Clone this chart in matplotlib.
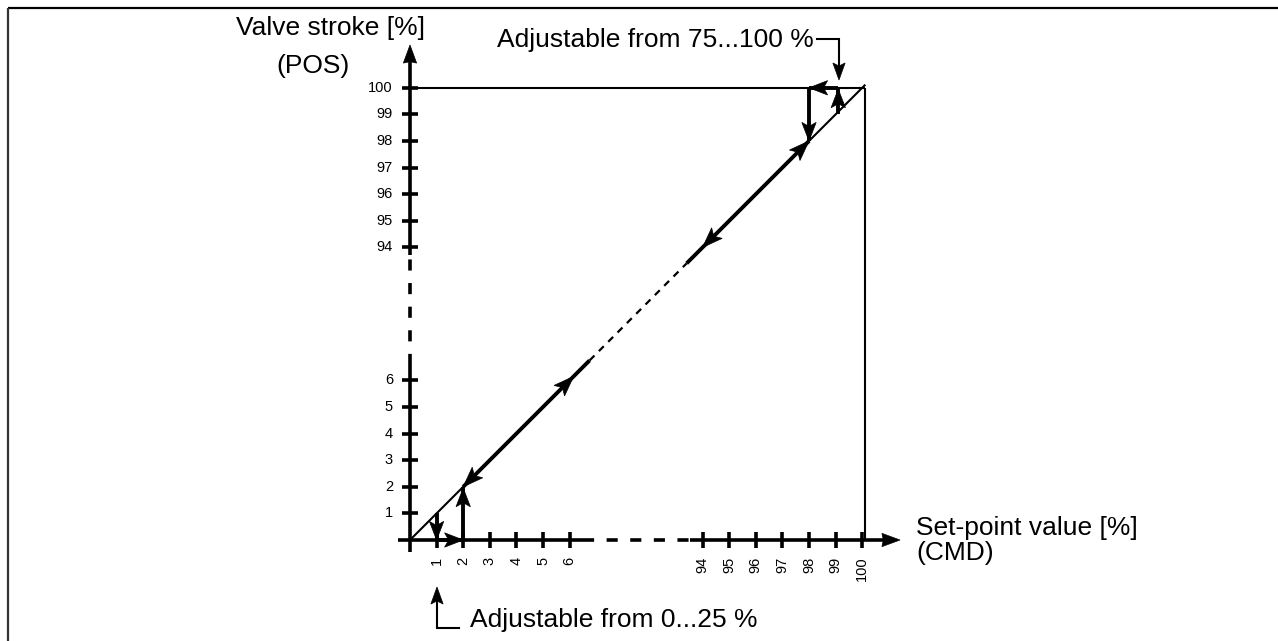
import matplotlib
matplotlib.use("Agg")
import matplotlib.pyplot as plt
from matplotlib.patches import Polygon
import numpy as np

plt.rcParams['font.family'] = ['Liberation Sans', 'DejaVu Sans']
plt.rcParams['lines.scale_dashes'] = False

# ---------------- data ----------------
x_tick_values = [1, 2, 3, 4, 5, 6, 94, 95, 96, 97, 98, 99, 100]
y_tick_values = [1, 2, 3, 4, 5, 6, 94, 95, 96, 97, 98, 99, 100]
x_tick_labels = [str(v) for v in x_tick_values]
y_tick_labels = [str(v) for v in y_tick_values]

# lower dead-band loop (CMD, POS)
low_loop_x = [1, 1, 2, 2]
low_loop_y = [1, 0, 0, 2]
# upper dead-band loop
high_loop_x = [99, 99, 98, 98]
high_loop_y = [99, 100, 100, 98]
# characteristic line (CMD = POS)
diag_thin_lo = [0, 2]
diag_lo = [2, 6.75]
diag_mid = [6.75, 10.4]   # broken part (shown dashed)
diag_hi = [10.4, 98]
diag_thin_hi = [98, 100]
diag_arrows = [(6.15, 1), (2, -1), (94, -1), (98, 1)]  # (position, direction)

x_label = ["Set-point value [%]", "(CMD)"]
y_label = ["Valve stroke [%]", "(POS)"]
note_top = "Adjustable from 75...100 %"
note_bottom = "Adjustable from 0...25 %"


def u(v):
    """map value to broken-scale position"""
    v = np.asarray(v, dtype=float)
    return np.where(v > 50, v - 83.0, v)


W, H = 1278, 641
dpi = 100
fig = plt.figure(figsize=(W / dpi, H / dpi), dpi=dpi)
ax = fig.add_axes([0, 0, 1, 1])
ax.set_axis_off()

PX = 26.6          # pixels per unit
OX, OY = 410, 540  # origin in pixels (from top)
ax.set_xlim(-OX / PX, (W - OX) / PX)
ax.set_ylim(-(H - OY) / PX, OY / PX)


def px(xp, yp):
    return (xp - OX) / PX, (OY - yp) / PX


LW_THIN = 1.5
LW_AX = 2.6
LW_THICK = 2.8
FS_BIG = 19
FS_TICK = 10.5


def head(tip, direction, length=0.7, half=0.27, notch=0.22):
    d = np.asarray(direction, float)
    d = d / np.hypot(*d)
    n = np.array([-d[1], d[0]])
    t = np.asarray(tip, float)
    back = t - d * length
    pts = [t, back + n * half, t - d * length * (1 - notch), back - n * half]
    ax.add_patch(Polygon(pts, closed=True, facecolor='black', edgecolor='black',
                         linewidth=0.5, zorder=6, joinstyle='miter'))


# ---- border ----
bx0, by0 = px(7.5, 8)
bx1, _ = px(W + 5, 8)
_, by1 = px(7.5, H + 5)
ax.plot([bx0, bx1], [by0, by0], color='black', lw=1.6, solid_capstyle='butt')
ax.plot([bx0, bx0], [by0, by1], color='#333333', lw=1.6, solid_capstyle='butt')

# ---- axes (broken) ----
xa0 = -0.45
xa1 = px(900, 0)[0]
ya1 = px(0, 45)[1]
ax.plot([xa0, 6.5], [0, 0], color='black', lw=LW_AX, solid_capstyle='butt')
ax.plot([6.5, 10.53], [0, 0], color='black', lw=LW_AX, ls=(0, (8, 9)))
ax.plot([10.53, xa1 - 0.5], [0, 0], color='black', lw=LW_AX, solid_capstyle='butt')
head((xa1, 0), (1, 0), length=0.68, half=0.25, notch=0.08)

ax.plot([0, 0], [xa0, 6.58], color='black', lw=LW_AX, solid_capstyle='butt')
ax.plot([0, 0], [6.58, 10.71], color='black', lw=LW_AX, ls=(0, (8, 9)))
ax.plot([0, 0], [10.71, ya1 - 0.5], color='black', lw=LW_AX, solid_capstyle='butt')
head((0, ya1), (0, 1), length=0.68, half=0.25, notch=0.08)

# ---- ticks ----
tl = 0.3
for v, lab in zip(x_tick_values, x_tick_labels):
    xv = float(u(v))
    ax.plot([xv, xv], [-tl, tl], color='black', lw=LW_AX, solid_capstyle='butt')
    ax.text(xv, -0.62, lab, rotation=90, ha='center', va='top', fontsize=FS_TICK)
for v, lab in zip(y_tick_values, y_tick_labels):
    yv = float(u(v))
    ax.plot([-tl, tl], [yv, yv], color='black', lw=LW_AX, solid_capstyle='butt')
    ax.text(-0.64, yv, lab, ha='right', va='center', fontsize=FS_TICK)

# ---- frame lines (100 %) ----
top = float(u(100))
ax.plot([0, top + 0.09], [top, top], color='black', lw=LW_THIN, solid_capstyle='butt')
ax.plot([top + 0.09, top + 0.09], [0, top], color='black', lw=LW_THIN, solid_capstyle='butt')

# ---- characteristic ----
a, b = u(diag_thin_lo)
ax.plot([a, b], [a, b], color='black', lw=LW_THIN)
a, b = u(diag_thin_hi)
ax.plot([a, b + 0.09], [a, b + 0.09], color='black', lw=LW_THIN)
a, b = u(diag_lo)
ax.plot([a, b], [a, b], color='black', lw=LW_THICK, solid_capstyle='butt')
a, b = u(diag_mid)
ax.plot([a, b], [a, b], color='black', lw=1.6, ls=(0, (5, 4.5)))
a, b = u(diag_hi)
ax.plot([a, b], [a, b], color='black', lw=LW_THICK, solid_capstyle='butt')
for pos, dr in diag_arrows:
    p = float(u(pos))
    head((p, p), (dr, dr), length=0.76, half=0.28)

# ---- low loop ----
lx = u(low_loop_x)
ly = u(low_loop_y)
ax.plot(lx[:2], ly[:2], color='black', lw=LW_THICK, solid_capstyle='butt')
head((lx[1], ly[1]), (0, -1))
ax.plot(lx[1:3], ly[1:3], color='black', lw=LW_THICK, solid_capstyle='butt')
head((lx[2], ly[2]), (1, 0))
ax.plot(lx[2:4], ly[2:4], color='black', lw=LW_THICK, solid_capstyle='butt')
head((lx[3], ly[3] - 0.05), (0, 1))

# ---- high loop ----
hx = u(high_loop_x) + 0.1
hx[2:] = u(high_loop_x[2:])
hy = u(high_loop_y)
ax.plot(hx[:2], hy[:2], color='black', lw=LW_THICK, solid_capstyle='butt')
head((hx[1], hy[1] - 0.05), (0, 1))
ax.plot(hx[1:3], hy[1:3], color='black', lw=LW_THICK, solid_capstyle='butt')
head((hx[2], hy[2]), (-1, 0))
ax.plot(hx[2:4], hy[2:4], color='black', lw=LW_THICK, solid_capstyle='butt')
head((hx[3], hy[3]), (0, -1))

# ---- axis labels ----
x0, y0 = px(916, 528)
ax.text(x0, y0, x_label[0], ha='left', va='center', fontsize=FS_BIG)
x0, y0 = px(916, 553)
ax.text(x0, y0, x_label[1], ha='left', va='center', fontsize=FS_BIG)
x0, y0 = px(236, 28)
ax.text(x0, y0, y_label[0], ha='left', va='center', fontsize=FS_BIG)
x0, y0 = px(313, 66)
ax.text(x0, y0, y_label[1], ha='center', va='center', fontsize=FS_BIG)

# ---- annotations ----
x0, y0 = px(497, 40)
ax.text(x0, y0, note_top, ha='left', va='center', fontsize=FS_BIG)
p1 = px(817, 39)
p2 = px(839, 39)
p3 = px(839, 80)
ax.plot([p1[0], p2[0], p2[0]], [p1[1], p2[1], p3[1] + 0.5], color='black', lw=1.5,
        solid_joinstyle='miter')
head(p3, (0, -1), length=0.64, half=0.23, notch=0.18)

x0, y0 = px(470, 620)
ax.text(x0, y0, note_bottom, ha='left', va='center', fontsize=FS_BIG)
q1 = px(459, 628)
q2 = px(437, 628)
q3 = px(437, 587)
ax.plot([q1[0], q2[0], q2[0]], [q1[1], q2[1], q3[1] - 0.5], color='black', lw=1.5,
        solid_joinstyle='miter')
head(q3, (0, 1), length=0.64, half=0.23, notch=0.18)

fig.savefig("out.png", dpi=dpi)
